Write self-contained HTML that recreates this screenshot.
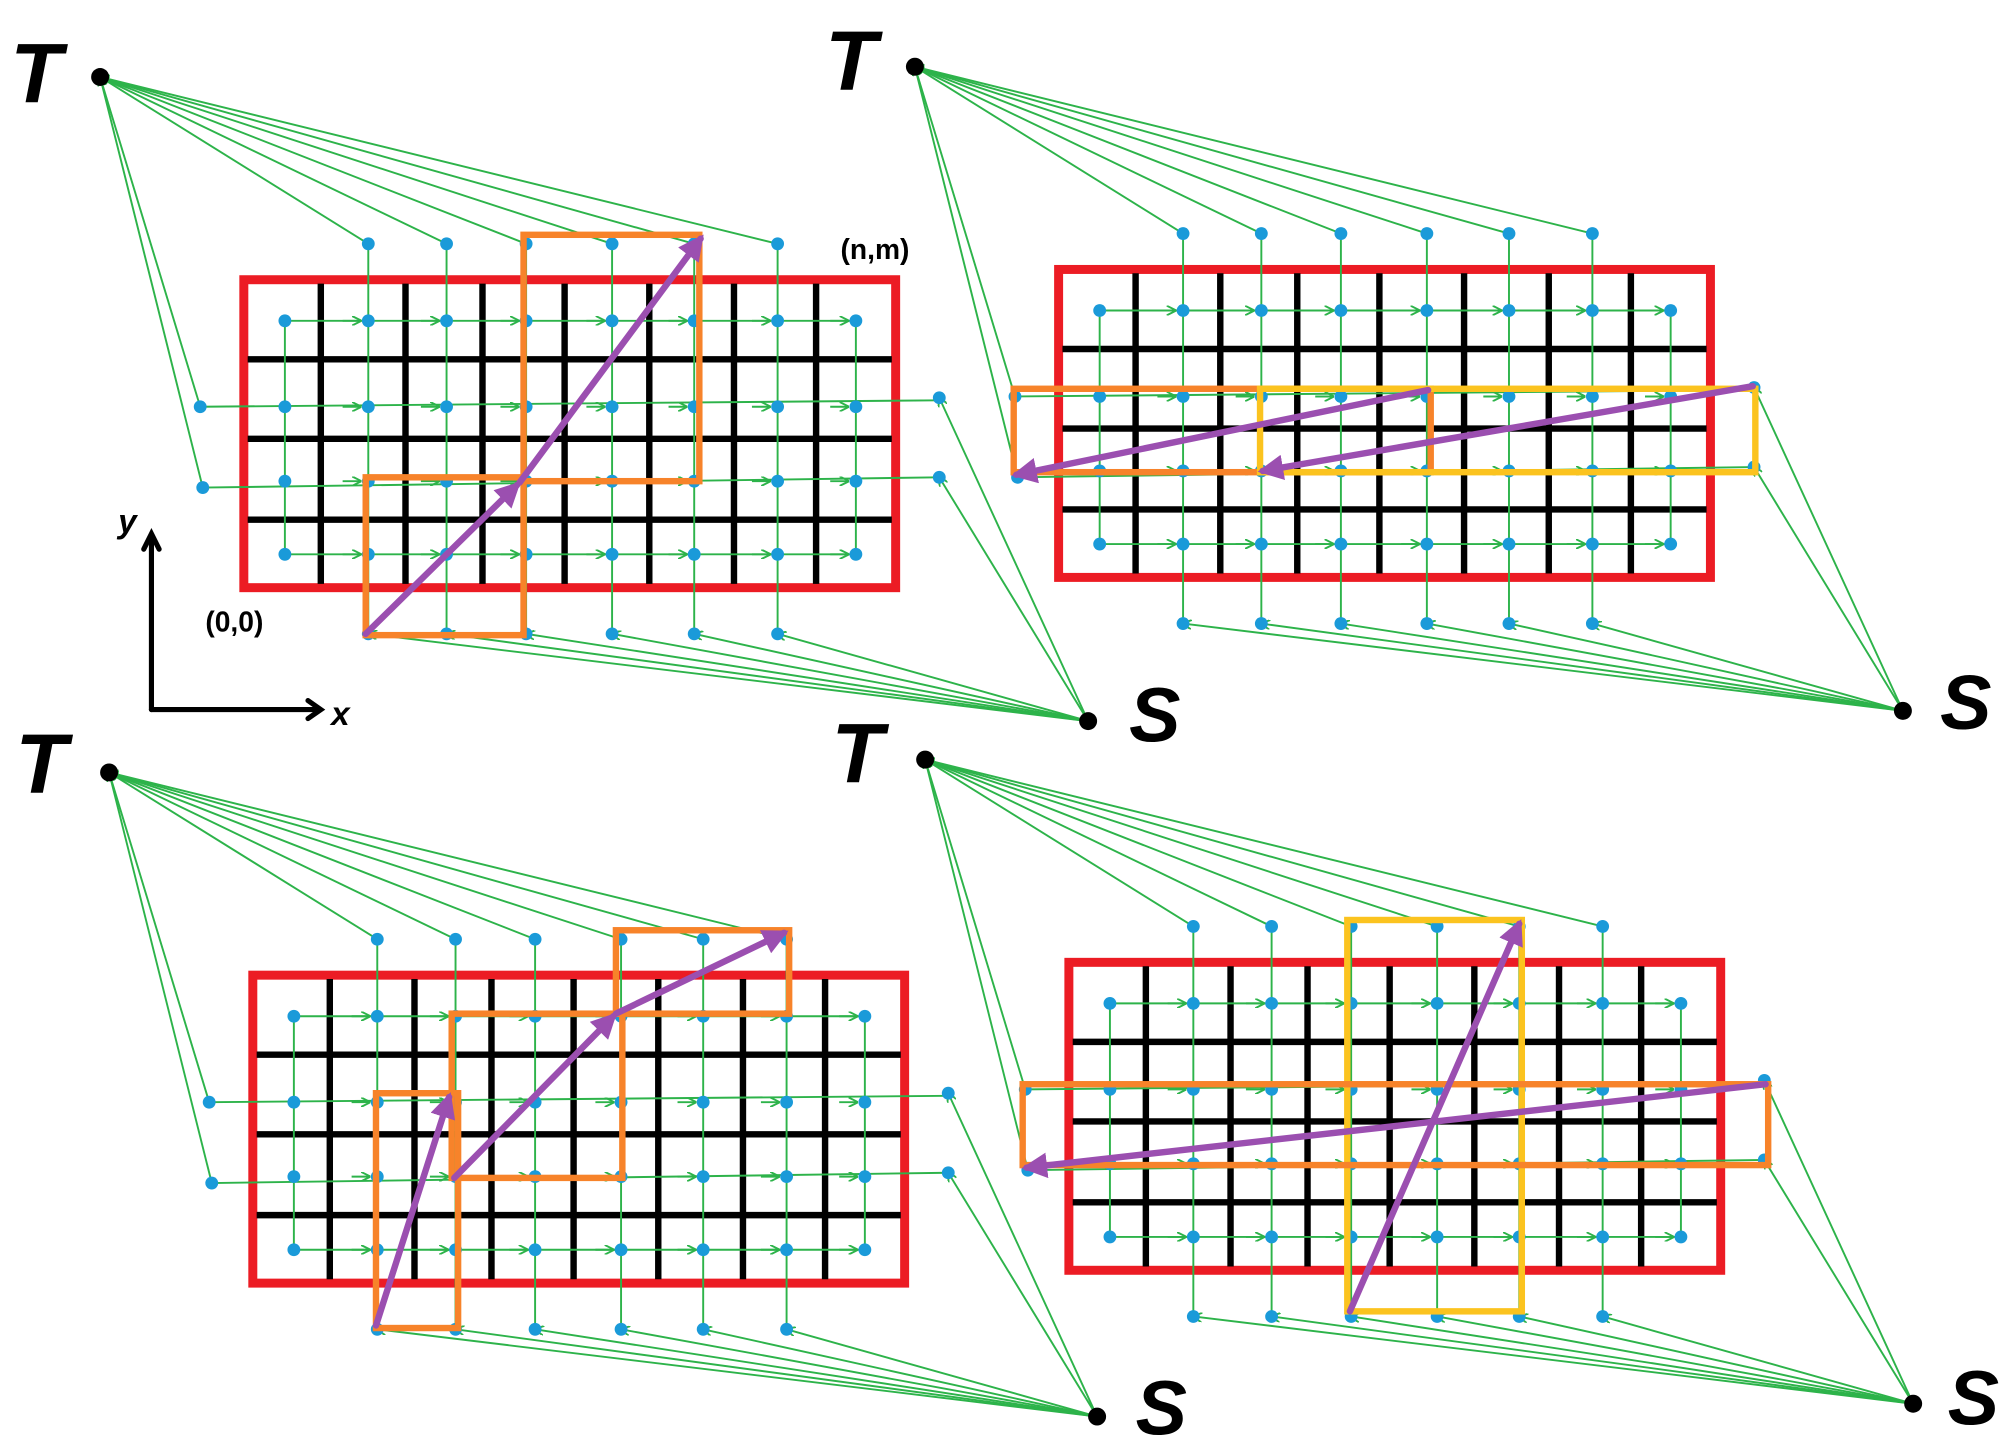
<!DOCTYPE html>
<html><head><meta charset="utf-8"><style>
html,body{margin:0;padding:0;background:#fff;}
svg{display:block;}
text{font-family:"Liberation Sans",sans-serif;font-weight:bold;fill:#000;}
</style></head><body>
<svg id="s" width="2012" height="1448" viewBox="0 0 1568 1128.5" xmlns="http://www.w3.org/2000/svg">
<defs>
<marker id="ga" viewBox="0 0 10 10" refX="9" refY="5" markerWidth="5" markerHeight="5" orient="auto-start-reverse"><path d="M0,0 L10,5 L0,10" fill="none" stroke="#2db34a" stroke-width="2"/></marker>
<marker id="pa" viewBox="0 0 10 10" refX="8" refY="5" markerWidth="4" markerHeight="4" orient="auto"><path d="M0,0 L10,5 L0,10 z" fill="#9b4fb0"/></marker>
</defs>
<g id="root"></g>
<!-- axes & labels -->
<g stroke="#000" stroke-width="4" fill="none" stroke-linecap="round">
<line x1="118" y1="418" x2="118" y2="553"/><line x1="118" y1="553" x2="248" y2="553"/>
<path d="M112,428 L118,416 L124,428"/><path d="M240,546 L250,553 L240,560"/>
</g>
<text x="92" y="415" font-size="26" font-style="italic">y</text>
<text x="258" y="565" font-size="26" font-style="italic">x</text>
<text x="655" y="202" font-size="22">(n,m)</text>
<text x="160" y="492" font-size="22">(0,0)</text>
<g font-size="66" font-style="italic">
<text x="8" y="80">T</text><text x="643" y="70">T</text><text x="12" y="618">T</text><text x="648" y="610">T</text>
<text x="880" y="578" font-size="60">S</text><text x="1512" y="568" font-size="60">S</text>
<text x="885" y="1118" font-size="60">S</text><text x="1518" y="1110" font-size="60">S</text>
</g>
<!-- overlays -->
<g fill="none" stroke-width="5">
<rect x="408" y="183" width="137" height="192" stroke="#f7832a"/>
<rect x="285" y="372" width="123" height="123" stroke="#f7832a"/>
<rect x="790" y="303" width="325" height="65" stroke="#f7832a"/>
<rect x="982" y="303" width="386" height="65" stroke="#fbc31f"/>
<rect x="480" y="725" width="135" height="65" stroke="#f7832a"/>
<rect x="352" y="790" width="133" height="128" stroke="#f7832a"/>
<rect x="293" y="852" width="64" height="183" stroke="#f7832a"/>
<rect x="1050" y="717" width="136" height="305" stroke="#fbc31f"/>
<rect x="797" y="845" width="581" height="63" stroke="#f7832a"/>
</g>
<g fill="none" stroke="#9b4fb0" stroke-width="5" stroke-linecap="round">
<line x1="285" y1="494" x2="403" y2="378" marker-end="url(#pa)"/>
<line x1="405" y1="376" x2="546" y2="186" marker-end="url(#pa)"/>
<line x1="1366" y1="301" x2="984" y2="367" marker-end="url(#pa)"/>
<line x1="1113" y1="304" x2="792" y2="370" marker-end="url(#pa)"/>
<line x1="293" y1="1033" x2="350" y2="855" marker-end="url(#pa)"/>
<line x1="354" y1="918" x2="478" y2="792" marker-end="url(#pa)"/>
<line x1="480" y1="790" x2="611" y2="727" marker-end="url(#pa)"/>
<line x1="1052" y1="1022" x2="1184" y2="720" marker-end="url(#pa)"/>
<line x1="1376" y1="845" x2="800" y2="910" marker-end="url(#pa)"/>
</g>
</svg>
<script>
(function(){
var NS="http://www.w3.org/2000/svg",root=document.getElementById("root");
function el(t,a,p){var e=document.createElementNS(NS,t);for(var k in a)e.setAttribute(k,a[k]);(p||root).appendChild(e);return e;}
var offs=[[0,0],[635,-8],[7,542],[643,532]];
var cols=[222,287,348,410,477,541,606,667];
var rows=[250,317,375,432];
var T=[78,60],S=[848,562];
offs.forEach(function(o){
 var g=el("g",{transform:"translate("+o[0]+","+o[1]+")"});
 // red rect
 el("rect",{x:190,y:218,width:508,height:240,fill:"none",stroke:"#ec1c24","stroke-width":7},g);
 // black grid
 [250,316,376,440,506,572,636].forEach(function(x){el("line",{x1:x,y1:221,x2:x,y2:455,stroke:"#000","stroke-width":5},g);});
 [280,342,405].forEach(function(y){el("line",{x1:193,y1:y,x2:695,y2:y,stroke:"#000","stroke-width":5},g);});
 var gs={stroke:"#2db34a","stroke-width":1.5,fill:"none"};
 function gl(x1,y1,x2,y2,m){var a={x1:x1,y1:y1,x2:x2,y2:y2};for(var k in gs)a[k]=gs[k];if(m)a["marker-end"]="url(#ga)";el("line",a,g);}
 var inner=cols.slice(1,7);
 // top nodes from T
 inner.forEach(function(x){gl(x,190,T[0],T[1],1);gl(x,190,x,494,0);});
 gl(156,317,T[0],T[1],1);gl(158,380,T[0],T[1],1);
 // bottom nodes from S
 inner.forEach(function(x){gl(S[0],S[1],x,494,1);});
 gl(S[0],S[1],732,310,1);gl(S[0],S[1],732,372,1);
 // rows
 gl(222,250,667,250,0);gl(222,432,667,432,0);
 gl(156,317,732,312,0);gl(158,380,732,372,0);
 gl(222,250,222,432,0);gl(667,250,667,432,0);
 // small arrow marks on rows
 rows.forEach(function(y){cols.slice(1).forEach(function(x){gl(x-20,y,x-6,y,1);});});
 // dots
 var d=[];
 rows.forEach(function(y){cols.forEach(function(x){d.push([x,y]);});});
 inner.forEach(function(x){d.push([x,190]);d.push([x,494]);});
 d.push([156,317],[158,380],[732,310],[732,372]);
 d.forEach(function(p){el("circle",{cx:p[0],cy:p[1],r:5,fill:"#1a9ad9"},g);});
 el("circle",{cx:T[0],cy:T[1],r:7,fill:"#000"},g);
 el("circle",{cx:S[0],cy:S[1],r:7,fill:"#000"},g);
});
})();
</script>
</body></html>
